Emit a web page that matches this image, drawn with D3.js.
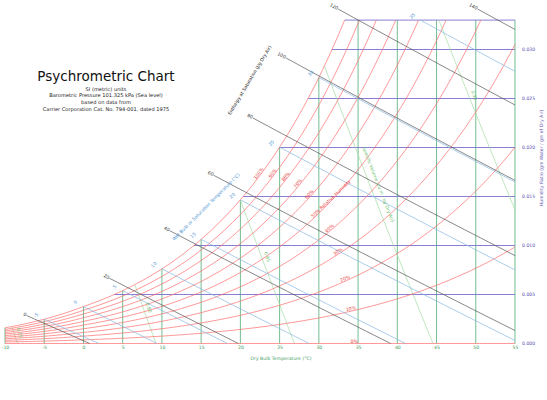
<!DOCTYPE html>
<html>
<head>
<meta charset="utf-8">
<script src="https://cdn.jsdelivr.net/npm/d3@7"></script>
<style>
  body { margin: 0; background: #fff; }
  svg text { font-family: "DejaVu Sans", sans-serif; }
</style>
</head>
<body>
<svg id="chart" width="547" height="400"></svg>
<script>
// chart values
const dryBulbTemps = [-10, -5, 0, 5, 10, 15, 20, 25, 30, 35, 40, 45, 50, 55];
const humidityRatios = [0.000, 0.005, 0.010, 0.015, 0.020, 0.025, 0.030];
const topHumidityRatio = 0.033;
const relHumidities = [0, 10, 20, 30, 40, 50, 60, 70, 80, 90, 100];
const wetBulbTemps = [-5, 0, 5, 10, 15, 20, 25, 30, 35];
const enthalpies = [0, 20, 40, 60, 80, 100, 120, 140];
const specificVolumes = [0.75, 0.80, 0.85, 0.90, 0.95];
const pressure = 101.325; // kPa, sea level

const titleLines = [
  "SI (metric) units",
  "Barometric Pressure 101.325 kPa (Sea level)",
  "based on data from",
  "Carrier Corporation Cat. No. 794-001, dated 1975"
];

const x = d3.scaleLinear().domain([-10, 55]).range([5, 515]);
const y = d3.scaleLinear().domain([0, 0.030]).range([343.5, 49.5]);

// --- psychrometric relations ---
function psat(t) {
  return t >= 0 ? 0.61094 * Math.exp(17.625 * t / (t + 243.04))
                : 0.61115 * Math.exp(22.452 * t / (272.55 + t));
}
function wFromPv(pv) { return 0.622 * pv / (pressure - pv); }
function wSat(t) { return wFromPv(psat(t)); }
function wRH(t, rh) { return wFromPv(rh / 100 * psat(t)); }
function wWetBulb(t, tw) {
  const ws = wSat(tw);
  if (tw >= 0) return ((2501 - 2.326 * tw) * ws - 1.006 * (t - tw)) / (2501 + 1.86 * t - 4.186 * tw);
  return ((2830 - 0.24 * tw) * ws - 1.006 * (t - tw)) / (2830 + 1.86 * t - 2.1 * tw);
}
function hSat(t) { const w = wSat(t); return 1.006 * t + w * (2501 + 1.86 * t); }
function tFromVolume(v, w) { return v * pressure / (0.287042 * (1 + 1.6078 * w)) - 273.15; }

function solve(f, lo, hi) {
  let flo = f(lo);
  for (let i = 0; i < 60; i++) {
    const mid = (lo + hi) / 2, fm = f(mid);
    if ((fm > 0) === (flo > 0)) { lo = mid; flo = fm; } else hi = mid;
  }
  return (lo + hi) / 2;
}
function steps(a, b, s) { return d3.range(a, b, s).concat([b]); }
function angleOf(p, q) { return Math.atan2(y(q[1]) - y(p[1]), x(q[0]) - x(p[0])) * 180 / Math.PI; }

const svg = d3.select("#chart");
const line = d3.line().x(d => x(d[0])).y(d => y(d[1]));

// dry bulb verticals
svg.append("g").selectAll("line").data(dryBulbTemps).join("line")
  .attr("x1", d => x(d)).attr("x2", d => x(d))
  .attr("y1", y(0)).attr("y2", d => y(Math.min(wSat(d), topHumidityRatio)))
  .attr("stroke", "#62b683").attr("stroke-width", 0.9);

// humidity ratio horizontals (plus top border)
const hLines = humidityRatios.filter(w => w > 0).concat([topHumidityRatio]);
svg.append("g").selectAll("line").data(hLines).join("line")
  .attr("x1", w => x(solve(t => wSat(t) - w, -10, 60))).attr("x2", x(55))
  .attr("y1", w => y(w)).attr("y2", w => y(w))
  .attr("stroke", "#7b70cf").attr("stroke-width", 0.9);

// specific volume lines
const volData = specificVolumes.map(v => {
  let wTop = wSat(solve(t => tFromVolume(v, wSat(t)) - t, -10, 60));
  wTop = Math.min(wTop, topHumidityRatio);
  const wBot = tFromVolume(v, 0) > 55 ? solve(w => tFromVolume(v, w) - 55, 0, 0.05) : 0;
  const pts = steps(wBot, wTop, 0.001).map(w => [tFromVolume(v, w), w]);
  return { v, wTop, wBot, pts };
});
svg.append("g").selectAll("path").data(volData).join("path")
  .attr("d", d => line(d.pts)).attr("fill", "none")
  .attr("stroke", "#a3dca3").attr("stroke-width", 0.7);

// relative humidity curves
const rhData = relHumidities.map(r => {
  const tEnd = wRH(55, r) > topHumidityRatio ? solve(t => wRH(t, r) - topHumidityRatio, -10, 55) : 55;
  return { r, pts: steps(-10, tEnd, 0.5).map(t => [t, wRH(t, r)]) };
});
svg.append("g").selectAll("path").data(rhData).join("path")
  .attr("d", d => line(d.pts)).attr("fill", "none")
  .attr("stroke", "#ff6b6b").attr("stroke-width", 0.7);

// wet bulb lines
const wbData = wetBulbTemps.map(tw => {
  const f = t => wWetBulb(t, tw);
  const t0 = wSat(tw) > topHumidityRatio ? solve(t => f(t) - topHumidityRatio, tw, 60) : tw;
  const t1 = f(55) > 0 ? 55 : solve(f, tw, 80);
  return { tw, t0, pts: steps(t0, t1, 1).map(t => [t, f(t)]) };
});
svg.append("g").selectAll("path").data(wbData).join("path")
  .attr("d", d => line(d.pts)).attr("fill", "none")
  .attr("stroke", "#86b8e3").attr("stroke-width", 0.7);

// enthalpy lines (extended past saturation to the enthalpy scale)
const wScaleTop = y.invert(9);
const enData = enthalpies.map(h => {
  const tw = solve(t => hSat(t) - h, -20, 60);
  const f = t => wWetBulb(t, tw);
  let ts = tw - Math.min(4.3, 1.5 + 0.045 * h);
  if (f(ts) > wScaleTop) ts = solve(t => f(t) - wScaleTop, ts, 70);
  const t1 = f(55) > 0 ? 55 : solve(f, tw, 80);
  return { h, ts, f, pts: steps(ts, t1, 1).map(t => [t, f(t)]) };
});
svg.append("g").selectAll("path").data(enData).join("path")
  .attr("d", d => line(d.pts)).attr("fill", "none")
  .attr("stroke", "#555").attr("stroke-width", 0.7);

// ---- labels ----
const small = 4.6;

svg.append("g").selectAll("text").data(enData).join("text")
  .attr("transform", d => `translate(${x(d.ts) - 1},${y(d.f(d.ts)) + 1}) rotate(${angleOf([d.ts, d.f(d.ts)], [d.ts + 1, d.f(d.ts + 1)])})`)
  .attr("text-anchor", "end").attr("font-size", small).attr("fill", "#333")
  .text(d => d.h);

svg.append("g").selectAll("text").data(wbData).join("text")
  .attr("transform", d => `translate(${x(d.t0) - 7},${y(wWetBulb(d.t0, d.tw)) - 3}) rotate(-45)`)
  .attr("text-anchor", "middle").attr("font-size", small).attr("fill", "#4a94d4")
  .text(d => d.tw);

const rhLabelT = r => 34.5 - 12 * Math.pow(r / 100, 1.5);
svg.append("g").selectAll("text").data(relHumidities).join("text")
  .attr("transform", r => {
    const t = r === 50 ? rhLabelT(r) - 1 : rhLabelT(r);
    return `translate(${x(t)},${y(wRH(t, r)) - 1}) rotate(${angleOf([t, wRH(t, r)], [t + 0.5, wRH(t + 0.5, r)])})`;
  })
  .attr("text-anchor", r => r === 50 ? "start" : "middle")
  .attr("font-size", small).attr("fill", "#e84040")
  .text(r => r === 50 ? "50% Relative Humidity" : r + "%");

svg.append("g").selectAll("text").data(volData.filter(d => d.v !== 0.90)).join("text")
  .attr("transform", d => {
    const w = d.wBot + 0.6 * (d.wTop - d.wBot);
    const t = tFromVolume(d.v, w);
    const a = angleOf([tFromVolume(d.v, w + 0.001), w + 0.001], [t, w]);
    return `translate(${x(t) + 4},${y(w)}) rotate(${a})`;
  })
  .attr("text-anchor", "middle").attr("font-size", small).attr("fill", "#6cbf6c")
  .text(d => d3.format(".2f")(d.v));

// specific volume title along the 0.90 line
{
  const d = volData.find(v => v.v === 0.90);
  const w = y.invert(185), t = tFromVolume(0.90, w);
  const a = angleOf([tFromVolume(0.90, w + 0.001), w + 0.001], [t, w]);
  svg.append("text")
    .attr("transform", `translate(${x(t) + 7},${y(w)}) rotate(${a})`)
    .attr("text-anchor", "middle").attr("font-size", small).attr("fill", "#6cbf6c")
    .text("Specific Volume (cu m / kg Dry Air)");
}

// axes
const xAxis = svg.append("g").attr("transform", `translate(0,${y(0)})`)
  .call(d3.axisBottom(x).tickValues(dryBulbTemps).tickFormat(d => String(d)).tickSize(0).tickPadding(2));
xAxis.select(".domain").remove();
xAxis.selectAll("text").attr("font-size", small).attr("fill", "#3f9e62").attr("font-family", "DejaVu Sans");

const yAxis = svg.append("g").attr("transform", `translate(${x(55)},0)`)
  .call(d3.axisRight(y).tickValues(humidityRatios).tickFormat(d3.format(".3f")).tickSize(0).tickPadding(7));
yAxis.select(".domain").remove();
yAxis.selectAll("text").attr("font-size", small).attr("fill", "#5a4fb0").attr("font-family", "DejaVu Sans");

svg.append("text").attr("x", 281).attr("y", 360).attr("text-anchor", "middle")
  .attr("font-size", small).attr("fill", "#3f9e62").text("Dry Bulb Temperature (°C)");
svg.append("text").attr("transform", "translate(543,158) rotate(-90)").attr("text-anchor", "middle")
  .attr("font-size", small).attr("fill", "#5a4fb0").text("Humidity Ratio (gm Water / gm of Dry Air)");
svg.append("text").attr("transform", "translate(251,81) rotate(-59)").attr("text-anchor", "middle")
  .attr("font-size", small).attr("fill", "#222").text("Enthalpy at Saturation (J/g Dry Air)");
svg.append("text").attr("transform", "translate(207,208) rotate(-45)").attr("text-anchor", "middle")
  .attr("font-size", small).attr("fill", "#4a94d4").text("Wet Bulb or Saturation Temperature (°C)");

// title block
svg.append("text").attr("x", 106).attr("y", 81).attr("text-anchor", "middle")
  .attr("font-size", 13.5).attr("fill", "#111").text("Psychrometric Chart");
svg.append("g").selectAll("text").data(titleLines).join("text")
  .attr("x", 106).attr("y", (d, i) => 90.8 + i * 6.6).attr("text-anchor", "middle")
  .attr("font-size", 5.1).attr("fill", "#222").text(d => d);
</script>
</body>
</html>
